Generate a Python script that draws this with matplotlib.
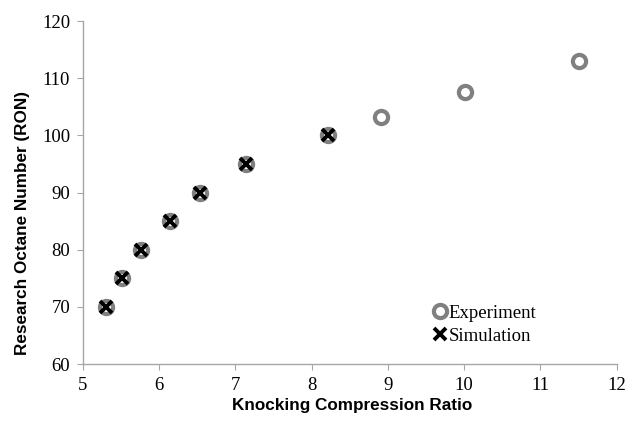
import matplotlib
matplotlib.use("Agg")
import matplotlib.pyplot as plt

plt.rcParams["font.family"] = ["Liberation Serif", "DejaVu Serif"]

# knocking compression ratio vs RON
exp_cr = [5.30, 5.52, 5.76, 6.14, 6.54, 7.14, 8.22, 8.91, 10.01, 11.5]
exp_ron = [70, 75, 80, 85, 90, 95, 100, 103.3, 107.6, 113.0]
sim_cr = [5.30, 5.52, 5.76, 6.14, 6.54, 7.14, 8.22]
sim_ron = [70, 75, 80, 85, 90, 95, 100]

fig = plt.figure(figsize=(6.29, 4.22), dpi=100)
ax = fig.add_axes([0.1315, 0.1374, 0.849, 0.8126])

ax.plot(exp_cr, exp_ron, linestyle="none", marker="o", markersize=9.5,
        markerfacecolor="none", markeredgecolor="#808080", markeredgewidth=3.0,
        label="Experiment")
ax.plot(sim_cr, sim_ron, linestyle="none", marker="x", markersize=8,
        color="black", markeredgewidth=2.8, label="Simulation")

ax.set_xlim(5, 12)
ax.set_ylim(60, 120)
ax.set_xticks(range(5, 13))
ax.set_yticks(range(60, 121, 10))

for s in ["top", "right"]:
    ax.spines[s].set_visible(False)
for s in ["left", "bottom"]:
    ax.spines[s].set_color("#a6a6a6")
    ax.spines[s].set_linewidth(1.0)
ax.tick_params(direction="out", length=4, color="#a6a6a6", labelsize=13.5,
               pad=5)

ax.set_xlabel("Knocking Compression Ratio", fontsize=12.3, fontweight="bold",
              family="Liberation Sans")
ax.set_ylabel("Research Octane Number (RON)", fontsize=12.3, fontweight="bold",
              family="Liberation Sans")
# label positions in axes coords
ax.xaxis.set_label_coords(0.505, -0.1)
ax.yaxis.set_label_coords(-0.098, 0.41)

leg = ax.legend(loc="lower left", bbox_to_anchor=(0.64, 0.035), frameon=False,
                prop={"size": 13.5}, handletextpad=0.0, handlelength=0.9,
                labelspacing=0.3, borderaxespad=0)

fig.savefig("out.png", dpi=100)
